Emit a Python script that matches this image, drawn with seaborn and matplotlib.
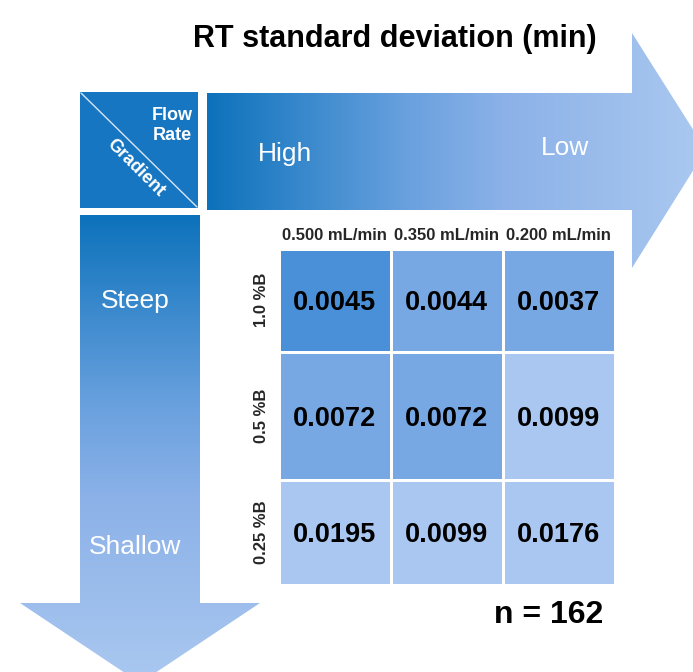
import numpy as np
import pandas as pd
import matplotlib
matplotlib.use("Agg")
import matplotlib.pyplot as plt
import seaborn as sns
from matplotlib.colors import ListedColormap, LinearSegmentedColormap
from matplotlib.patches import Polygon, Rectangle

# ---- data ----
flow_rates = ["0.500 mL/min", "0.350 mL/min", "0.200 mL/min"]
gradients = ["1.0 %B", "0.5 %B", "0.25 %B"]
rt_sd = [[0.0045, 0.0044, 0.0037],
         [0.0072, 0.0072, 0.0099],
         [0.0195, 0.0099, 0.0176]]
shade_level = [[2, 1, 1],
               [1, 1, 0],
               [0, 0, 0]]
title = "RT standard deviation (min)"
n_label = "n = 162"

sns.set_theme(style="white")
plt.rcParams["font.family"] = ["Liberation Sans", "DejaVu Sans"]

W, H = 693, 672
fig = plt.figure(figsize=(W / 100, H / 100), dpi=100)
fig.patch.set_facecolor("white")

# background layer in pixel coordinates
bg = fig.add_axes([0, 0, 1, 1])
bg.axis("off")

arrow_cmap = LinearSegmentedColormap.from_list(
    "arr", [(0.0, "#0c72bb"), (0.4, "#68a0de"), (0.6, "#8bb1e8"), (1.0, "#aac8f0")])

# horizontal arrow (flow rate)
h_pts = [(207, 93), (632, 93), (632, 33), (706, 150), (632, 268), (632, 210), (207, 210)]
h_poly = Polygon(h_pts, closed=True, transform=bg.transData)
him = bg.imshow(np.linspace(0, 1, 256).reshape(1, -1), cmap=arrow_cmap,
                extent=[207, 700, 268, 33], aspect="auto", origin="upper", zorder=1)
him.set_clip_path(h_poly)

# vertical arrow (gradient)
v_pts = [(80, 215), (200, 215), (200, 603), (260, 603), (140, 683), (20, 603), (80, 603)]
v_poly = Polygon(v_pts, closed=True, transform=bg.transData)
vim = bg.imshow(np.linspace(0, 1, 256).reshape(-1, 1), cmap=arrow_cmap,
                extent=[20, 260, 683, 215], aspect="auto", origin="upper", zorder=1)
vim.set_clip_path(v_poly)

bg.set_xlim(0, W)
bg.set_ylim(H, 0)

# corner box
bg.add_patch(Rectangle((80, 92), 118, 116, facecolor="#1676c2", edgecolor="none", zorder=2))
bg.plot([81, 197], [93, 207], color="#d8e6f5", lw=1, zorder=3)
bg.text(172, 115, "Flow", color="white", fontsize=13, fontweight="bold", ha="center", va="center", zorder=4)
bg.text(172, 136, "Rate", color="white", fontsize=13, fontweight="bold", ha="center", va="center", zorder=4)
bg.text(136, 168, "Gradient", color="white", fontsize=13, fontweight="bold", ha="center", va="center",
        rotation=-45, rotation_mode="anchor", zorder=4)

# arrow labels
bg.text(285, 154, "High", color="white", fontsize=19, ha="center", va="center", zorder=4)
bg.text(565, 148, "Low", color="white", fontsize=19, ha="center", va="center", zorder=4)
bg.text(135, 301, "Steep", color="white", fontsize=19, ha="center", va="center", zorder=4)
bg.text(135, 547, "Shallow", color="white", fontsize=19, ha="center", va="center", zorder=4)

# title and n
bg.text(395, 39, title, color="black", fontsize=22, fontweight="bold", ha="center", va="center")
bg.text(549, 615, n_label, color="black", fontsize=23, fontweight="bold", ha="center", va="center")

# heatmap: one row of cells per axes (rows have different heights)
row_bounds = [(248.5, 351.5), (351.5, 479.5), (479.5, 584.5)]
shade_df = pd.DataFrame(shade_level, index=gradients, columns=flow_rates)
annot_all = np.array([[f"{v:.4f}" for v in row] for row in rt_sd])
cell_cmap = ListedColormap(["#a9c7f0", "#78a8e4", "#4a90d8"])
for i, (top, bot) in enumerate(row_bounds):
    hax = fig.add_axes([278.5 / W, (H - bot) / H, 336 / W, (bot - top) / H])
    sns.heatmap(shade_df.iloc[[i]], ax=hax, cmap=cell_cmap, vmin=-0.5, vmax=2.5, cbar=False,
                annot=annot_all[[i]], fmt="",
                annot_kws=dict(size=19.5, weight="bold", color="black", va="center_baseline"),
                linewidths=2, linecolor="white",
                xticklabels=(flow_rates if i == 0 else False), yticklabels=[gradients[i]])
    hax.set_xlabel("")
    hax.set_ylabel("")
    hax.tick_params(axis="both", length=0)
    hax.tick_params(axis="y", pad=7)
    if i == 0:
        hax.xaxis.tick_top()
        hax.tick_params(axis="x", pad=4, length=0)
        for lab in hax.get_xticklabels():
            lab.set_fontsize(12)
            lab.set_fontweight("bold")
            lab.set_rotation(0)
    for lab in hax.get_yticklabels():
        lab.set_fontsize(12)
        lab.set_fontweight("bold")
        lab.set_rotation(90)
        lab.set_va("center")

fig.savefig("out.png", dpi=100, facecolor="white")
